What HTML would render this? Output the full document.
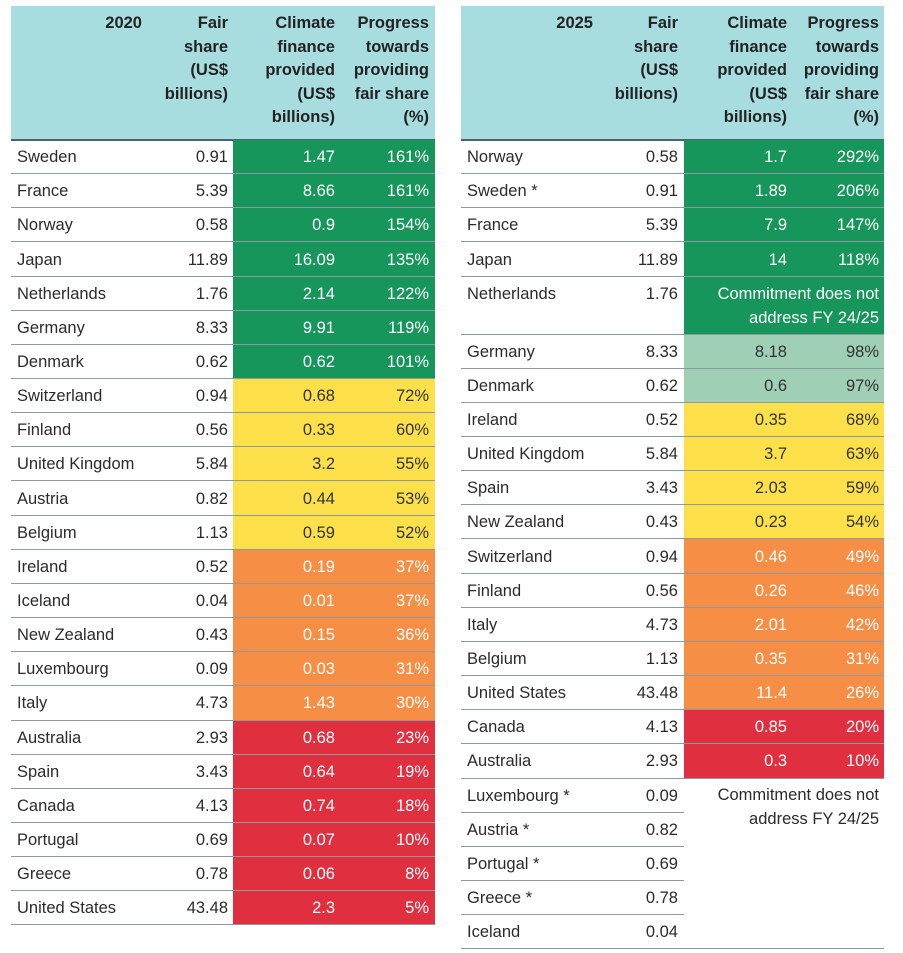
<!DOCTYPE html>
<html><head><meta charset="utf-8"><style>
body{margin:0;width:903px;height:953px;background:#fff;font-family:"Liberation Sans",sans-serif;position:relative;overflow:hidden;color:#2b2b2b}
.a{position:absolute;box-sizing:border-box}
.hd{background:#a8dde0;}
.ht{position:absolute;font-weight:bold;font-size:16.5px;line-height:23.5px;text-align:right;color:#222}
.c{position:absolute;font-size:16.5px;white-space:nowrap}
.ln{position:absolute;height:1px;background:#8d9aa6}
</style></head><body>
<div id="root"></div>
<script>
const leftNames=["Sweden","France","Norway","Japan","Netherlands","Germany","Denmark","Switzerland","Finland","United Kingdom","Austria","Belgium","Ireland","Iceland","New Zealand","Luxembourg","Italy","Australia","Spain","Canada","Portugal","Greece","United States"];
const leftFair=["0.91","5.39","0.58","11.89","1.76","8.33","0.62","0.94","0.56","5.84","0.82","1.13","0.52","0.04","0.43","0.09","4.73","2.93","3.43","4.13","0.69","0.78","43.48"];
const leftProv=["1.47","8.66","0.9","16.09","2.14","9.91","0.62","0.68","0.33","3.2","0.44","0.59","0.19","0.01","0.15","0.03","1.43","0.68","0.64","0.74","0.07","0.06","2.3"];
const leftPct=["161%","161%","154%","135%","122%","119%","101%","72%","60%","55%","53%","52%","37%","37%","36%","31%","30%","23%","19%","18%","10%","8%","5%"];
const leftCat=["g","g","g","g","g","g","g","y","y","y","y","y","o","o","o","o","o","r","r","r","r","r","r"];
const rightNames=["Norway","Sweden *","France","Japan","Netherlands","Germany","Denmark","Ireland","United Kingdom","Spain","New Zealand","Switzerland","Finland","Italy","Belgium","United States","Canada","Australia","Luxembourg *","Austria *","Portugal *","Greece *","Iceland"];
const rightFair=["0.58","0.91","5.39","11.89","1.76","8.33","0.62","0.52","5.84","3.43","0.43","0.94","0.56","4.73","1.13","43.48","4.13","2.93","0.09","0.82","0.69","0.78","0.04"];
const rightProv=["1.7","1.89","7.9","14","","8.18","0.6","0.35","3.7","2.03","0.23","0.46","0.26","2.01","0.35","11.4","0.85","0.3","","","","",""];
const rightPct=["292%","206%","147%","118%","","98%","97%","68%","63%","59%","54%","49%","46%","42%","31%","26%","20%","10%","","","","",""];
const rightCat=["g","g","g","g","g","l","l","y","y","y","y","o","o","o","o","o","r","r","n","n","n","n","n"];
const COL={g:"#16965a",l:"#9fcfb5",y:"#fde04a",o:"#f68e45",r:"#e0303f",n:"#fff"};
const TXT={g:"#fff",l:"#333",y:"#333",o:"#fff",r:"#fff",n:"#333"};
const R=document.getElementById('root');
function mk(cls,css,txt){const d=document.createElement('div');d.className=cls;d.style.cssText=css;if(txt!==undefined)d.textContent=txt;R.appendChild(d);return d;}
const RH=34.15, TOP=140;
function table(x0,x1,split,fairR,provR,pctR,year,names,fair,prov,pct,cat,isRight){
  let h=mk('a hd',`left:${x0}px;top:6px;width:${x1-x0}px;height:133px`);
  
  
  const hdrs=[[split-91,year],[fairR,"Fair\nshare\n(US$\nbillions)"],[provR,"Climate\nfinance\nprovided\n(US$\nbillions)"],[pctR,"Progress\ntowards\nproviding\nfair share\n(%)"]];
  hdrs.forEach(([r,t],i)=>{const e=mk('ht',`right:${903-r}px;top:12px;white-space:pre`,t);
    
    });
  mk('ln',`left:${x0}px;top:139px;height:2px;width:${x1-x0}px;background:#4f6070`);
  let y=TOP;
  names.forEach((n,i)=>{
    const hgt=(isRight&&n==="Netherlands")?58:RH;
    const yr=Math.round(y), hr=Math.round(y+hgt)-yr;
    const row=mk('a',`left:${x0}px;top:${yr}px;width:${x1-x0}px;height:${hr}px`);
    
    
    if(cat[i]!=='n') mk('a',`left:${split}px;top:${yr}px;width:${x1-split}px;height:${hr}px;background:${COL[cat[i]]}`);
    const ty=Math.round(y+RH/2-9);
    mk('c',`left:${x0+6}px;top:${ty}px`,n);
    mk('c',`right:${903-fairR}px;top:${ty}px`,fair[i]);
    const tc=TXT[cat[i]];
    if(isRight&&n==="Netherlands"){
      mk('c',`right:${903-pctR}px;top:${yr+6}px;color:#fff;text-align:right;line-height:23.5px;white-space:pre`,"Commitment does not\naddress FY 24/25");
    } else {
      mk('c',`right:${903-provR}px;top:${ty}px;color:${tc}`,prov[i]);
      mk('c',`right:${903-pctR}px;top:${ty}px;color:${tc}`,pct[i]);
    }
    y+=hgt;
    const last=i===names.length-1;
    const w=(cat[i]==='n'&&!last)?(split-x0):(x1-x0);
    mk('ln',`left:${x0}px;top:${Math.round(y)-1}px;width:${w}px`);
  });
  return y;
}
table(11,435,233,228,335,429,"2020",leftNames,leftFair,leftProv,leftPct,leftCat,false);
table(461,884,684,678,787,879,"2025",rightNames,rightFair,rightProv,rightPct,rightCat,true);
const note=mk('c',`right:${903-879}px;top:784px;text-align:right;line-height:23.5px;white-space:pre`,"Commitment does not\naddress FY 24/25");


</script>
</body></html>
